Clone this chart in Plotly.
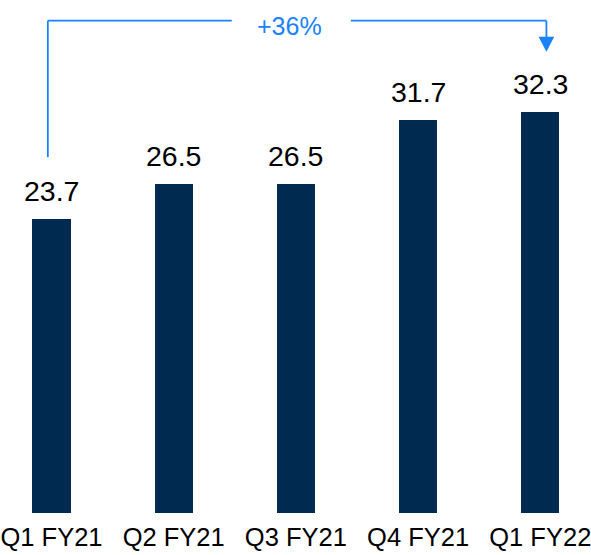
import plotly.graph_objects as go

categories = ["Q1 FY21", "Q2 FY21", "Q3 FY21", "Q4 FY21", "Q1 FY22"]
values = [23.7, 26.5, 26.5, 31.7, 32.3]
value_labels = ["23.7", "26.5", "26.5", "31.7", "32.3"]
growth_label = "+36%"

BAR_COLOR = "#002A50"
BLUE = "#1A82FF"
FONT = "Arial, Liberation Sans, sans-serif"

idx = list(range(len(categories)))

fig = go.Figure()
fig.add_trace(go.Bar(
    x=idx, y=values, marker=dict(color=BAR_COLOR, line=dict(width=0)),
    width=0.313, hoverinfo="skip",
))

for i, (v, t) in enumerate(zip(values, value_labels)):
    fig.add_annotation(x=i, y=v, text=t, showarrow=False, xref="x", yref="y",
                       yanchor="bottom", yshift=10,
                       font=dict(family=FONT, size=28.5, color="#000000"))

# growth bracket
first, last = 0, len(values) - 1
y_top = 39.7
y_start = values[first] + 5.0
y_tip = values[last] + 4.9
x_left = first - 0.03
x_right = last + 0.05
line = dict(color=BLUE, width=1.8)
fig.add_shape(type="line", xref="x", yref="y", x0=x_left, x1=x_left, y0=y_start, y1=y_top, line=line)
fig.add_shape(type="line", xref="x", yref="y", x0=x_left, x1=1.475, y0=y_top, y1=y_top, line=line)
fig.add_shape(type="line", xref="x", yref="y", x0=2.45, x1=x_right, y0=y_top, y1=y_top, line=line)
fig.add_shape(type="line", xref="x", yref="y", x0=x_right, x1=x_right, y0=y_top, y1=y_tip + 1.0, line=line)
hw = 0.064
hh = 1.2
fig.add_shape(type="path", xref="x", yref="y",
              path=f"M {x_right - hw} {y_tip + hh} L {x_right + hw} {y_tip + hh} L {x_right} {y_tip} Z",
              fillcolor=BLUE, line=dict(width=0))
fig.add_annotation(x=(first + last) / 2 - 0.053, y=y_top, text=growth_label, showarrow=False,
                   xref="x", yref="y", yanchor="middle", yshift=-5,
                   font=dict(family=FONT, size=25, color=BLUE))

fig.update_layout(
    width=591, height=555,
    margin=dict(l=0, r=0, t=0, b=42),
    paper_bgcolor="white", plot_bgcolor="white",
    showlegend=False,
    bargap=0,
    xaxis=dict(range=[-0.4214, 4.415], tickmode="array", tickvals=idx, ticktext=categories,
               showgrid=False, zeroline=False, showline=False, ticks="",
               ticklabelstandoff=6, ticklabeloverflow="allow",
               tickfont=dict(family=FONT, size=25.5, color="#000000")),
    yaxis=dict(range=[0, 41.37], visible=False, showgrid=False, zeroline=False),
)

fig.write_html("out.html")
